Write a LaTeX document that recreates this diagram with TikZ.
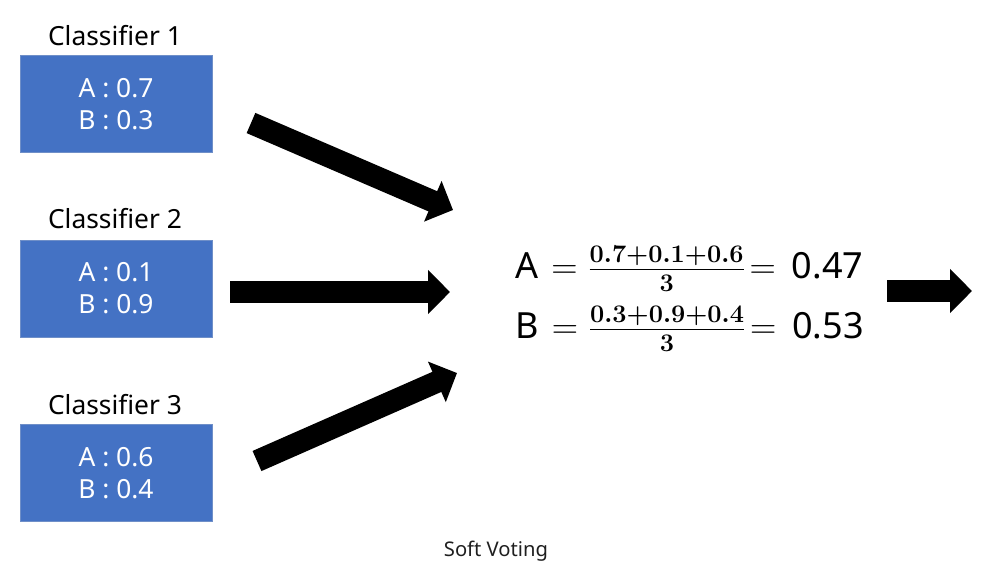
\documentclass[tikz,border=0pt]{standalone}
\usepackage{fontspec}
\setmainfont{Noto Sans}
\usetikzlibrary{arrows.meta}
\DeclareMathSizes{20.5}{20.5}{14}{10}

\definecolor{boxblue}{HTML}{4472C4}
\definecolor{boxedge}{HTML}{6F8FC8}

\begin{document}
\begin{tikzpicture}[x=0.02cm, y=-0.02cm,
    every node/.style={inner sep=0pt},
    probbox/.style={draw=boxedge, line width=0.4pt, fill=boxblue, text=white, minimum width=3.84cm, minimum height=1.94cm, align=center, font=\fontsize{15}{18.2}\selectfont},
    clflabel/.style={font=\fontsize{15}{18}\selectfont},
    eqline/.style={anchor=west, font=\fontsize{20.5}{24}\selectfont},
    blockarrow/.style={line width=0.44cm, -{Triangle[length=0.44cm, width=0.86cm]}}]
        \useasboundingbox (0,0) rectangle (987,582);

        \node[clflabel] (label1) at (115,36) {Classifier 1};
        \node[clflabel] (label2) at (115,219) {Classifier 2};
        \node[clflabel] (label3) at (115,405) {Classifier 3};

        \node[probbox] (clf1) at (116,104) {A : 0.7\\B : 0.3};
        \node[probbox] (clf2) at (116,288.5) {A : 0.1\\B : 0.9};
        \node[probbox] (clf3) at (116,473) {A : 0.6\\B : 0.4};

        % the two soft-voting averages
        \node[eqline] (eqa) at (515,269) {A\hspace{0.26cm}$=$\hspace{0.2cm}{\boldmath$\frac{0.7+0.1+0.6}{3}$}\hspace{0.08cm}$=$\hspace{0.32cm}0.47};
        \node[eqline] (eqb) at (515,329) {B\hspace{0.26cm}$=$\hspace{0.2cm}{\boldmath$\frac{0.3+0.9+0.4}{3}$}\hspace{0.08cm}$=$\hspace{0.32cm}0.53};

        \node[font=\fontsize{11.5}{13}\selectfont, text=black!88] (caption) at (496,551) {Soft Voting};

        % arrow ends
        \coordinate (tail1) at (251,123);
        \coordinate (head1) at (453,210);
        \coordinate (tail2) at (230,292);
        \coordinate (head2) at (450,292);
        \coordinate (tail3) at (257,461);
        \coordinate (head3) at (457,373);
        \coordinate (tailout) at (887,291);
        \coordinate (headout) at (972,291);

        \draw[blockarrow] (tail1) -- (head1);
        \draw[blockarrow] (tail2) -- (head2);
        \draw[blockarrow] (tail3) -- (head3);
        \draw[blockarrow] (tailout) -- (headout);
    \end{tikzpicture}
\end{document}
